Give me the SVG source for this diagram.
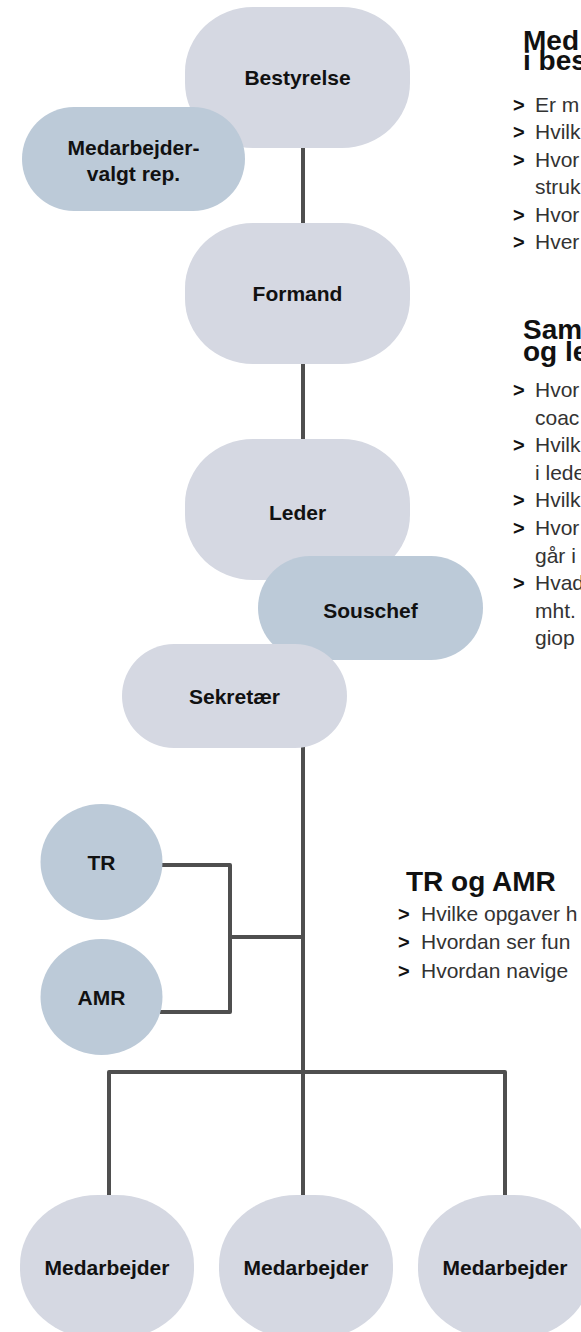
<svg xmlns="http://www.w3.org/2000/svg" width="581" height="1332" viewBox="0 0 581 1332">
<style>
.lt{fill:#d5d8e2}
.bl{fill:#bccad8}
.lbl{font-family:"Liberation Sans",Arial,sans-serif;font-weight:bold;font-size:21px;fill:#111;text-anchor:middle}
.hd{font-family:"Liberation Sans",Arial,sans-serif;font-weight:bold;font-size:28px;fill:#111}
.bd{font-family:"Liberation Sans",Arial,sans-serif;font-size:21px;fill:#333}
.ar{font-family:"Liberation Sans",Arial,sans-serif;font-weight:bold;font-size:20px;fill:#111}
.cn{fill:none;stroke:#4f4f4f;stroke-width:4;stroke-linejoin:round}
</style>
<rect width="581" height="1332" fill="#fff"/>
<g id="connectors">
<path class="cn" d="M303 147V224"/>
<path class="cn" d="M303 363V440"/>
<path class="cn" d="M303 747V1196"/>
<path class="cn" d="M160 865H230V1012H160"/>
<path class="cn" d="M230 937H303"/>
<path class="cn" d="M109 1196V1072H505V1196"/>
</g>
<g id="bestyrelse"><rect class="lt" x="185" y="7" width="225" height="141" rx="68" ry="65"/><text class="lbl" x="297.5" y="84.5">Bestyrelse</text></g>
<g id="medarbejdervalgt"><rect class="bl" x="22" y="107" width="223" height="104" rx="52"/><text class="lbl" x="133.5" y="154.5">Medarbejder-</text><text class="lbl" x="133.5" y="180.5">valgt rep.</text></g>
<g id="formand"><rect class="lt" x="185" y="223" width="225" height="141" rx="68" ry="65"/><text class="lbl" x="297.5" y="300.5">Formand</text></g>
<g id="leder"><rect class="lt" x="185" y="439" width="225" height="141" rx="68" ry="65"/><text class="lbl" x="297.5" y="519.5">Leder</text></g>
<g id="souschef"><rect class="bl" x="258" y="556" width="225" height="104" rx="52"/><text class="lbl" x="370.5" y="617.5">Souschef</text></g>
<g id="sekretaer"><rect class="lt" x="122" y="644" width="225" height="104" rx="52"/><text class="lbl" x="234.5" y="703.5">Sekretær</text></g>
<g id="tr"><ellipse class="bl" cx="101.5" cy="862" rx="61" ry="58"/><text class="lbl" x="101.5" y="870">TR</text></g>
<g id="amr"><ellipse class="bl" cx="101.5" cy="997" rx="61" ry="58"/><text class="lbl" x="101.5" y="1004.5">AMR</text></g>
<g id="medarbejder1"><rect class="lt" x="20" y="1195" width="174" height="144" rx="78" ry="70"/><text class="lbl" x="107" y="1274.5">Medarbejder</text></g>
<g id="medarbejder2"><rect class="lt" x="219" y="1195" width="174" height="144" rx="78" ry="70"/><text class="lbl" x="306" y="1274.5">Medarbejder</text></g>
<g id="medarbejder3"><rect class="lt" x="418" y="1195" width="174" height="144" rx="78" ry="70"/><text class="lbl" x="505" y="1274.5">Medarbejder</text></g>
<g id="text1">
<text class="hd" x="523" y="50">Med</text>
<text class="hd" x="523" y="70">i bes</text>
<text class="ar" x="513" y="112">&gt;</text><text class="bd" x="535" y="112">Er m</text>
<text class="ar" x="513" y="139.4">&gt;</text><text class="bd" x="535" y="139.4">Hvilk</text>
<text class="ar" x="513" y="166.8">&gt;</text><text class="bd" x="535" y="166.8">Hvor</text>
<text class="bd" x="535" y="194.2">struk</text>
<text class="ar" x="513" y="221.6">&gt;</text><text class="bd" x="535" y="221.6">Hvor</text>
<text class="ar" x="513" y="249">&gt;</text><text class="bd" x="535" y="249">Hver</text>
</g>
<g id="text2">
<text class="hd" x="523" y="339">Sam</text>
<text class="hd" x="523" y="361">og le</text>
<text class="ar" x="513" y="397">&gt;</text><text class="bd" x="535" y="397">Hvor</text>
<text class="bd" x="535" y="424.6">coac</text>
<text class="ar" x="513" y="452.2">&gt;</text><text class="bd" x="535" y="452.2">Hvilk</text>
<text class="bd" x="535" y="479.8">i lede</text>
<text class="ar" x="513" y="507.4">&gt;</text><text class="bd" x="535" y="507.4">Hvilk</text>
<text class="ar" x="513" y="535">&gt;</text><text class="bd" x="535" y="535">Hvor</text>
<text class="bd" x="535" y="562.6">går i</text>
<text class="ar" x="513" y="590.2">&gt;</text><text class="bd" x="535" y="590.2">Hvad</text>
<text class="bd" x="535" y="617.8">mht.</text>
<text class="bd" x="535" y="645.4">giop</text>
</g>
<g id="text3">
<text class="hd" x="406" y="890.5">TR og AMR</text>
<text class="ar" x="398" y="920.5">&gt;</text><text class="bd" x="421" y="920.5">Hvilke opgaver h</text>
<text class="ar" x="398" y="949">&gt;</text><text class="bd" x="421" y="949">Hvordan ser fun</text>
<text class="ar" x="398" y="977.5">&gt;</text><text class="bd" x="421" y="977.5">Hvordan navige</text>
</g>
</svg>
